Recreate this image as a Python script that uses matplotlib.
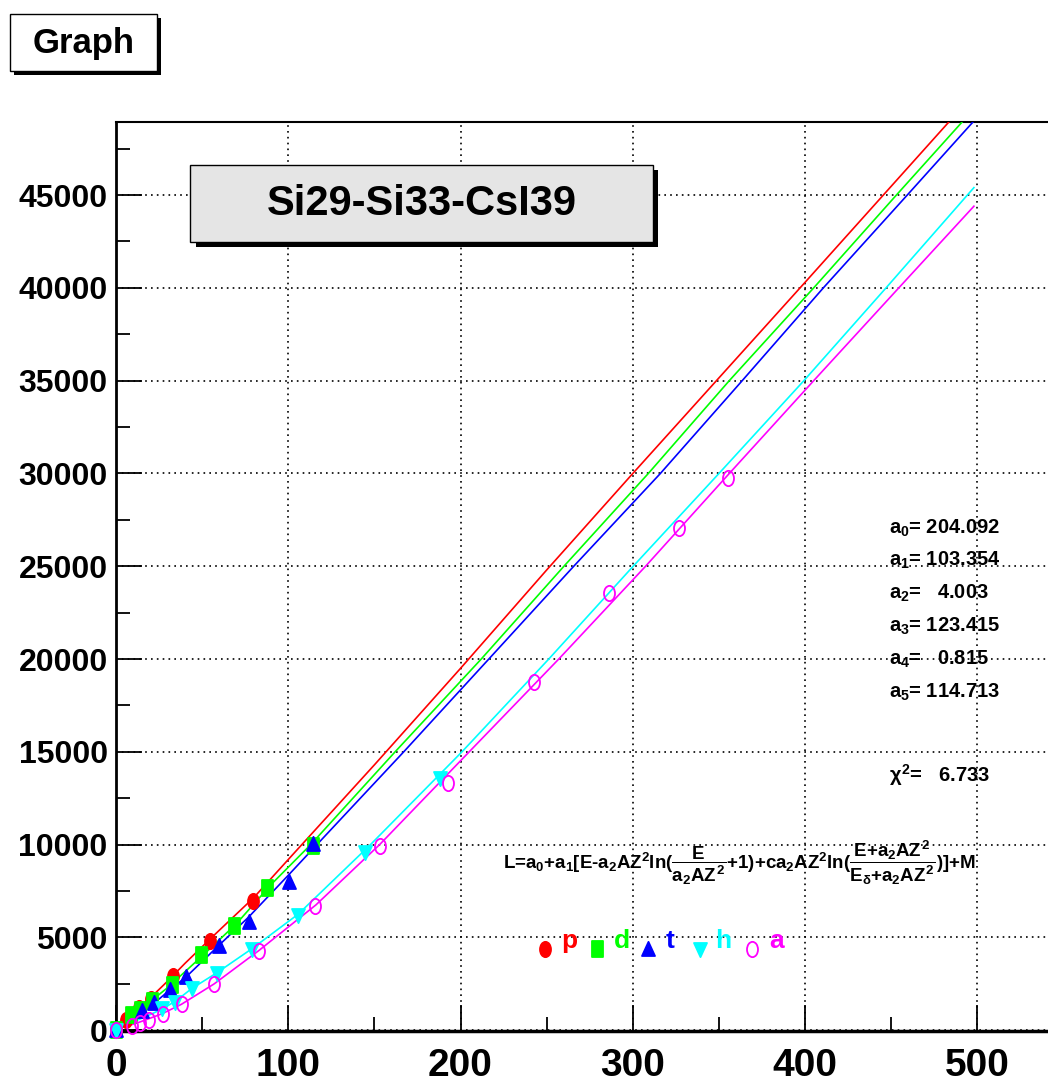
import matplotlib
matplotlib.use('Agg')
import numpy as np
import matplotlib.pyplot as plt
from matplotlib.path import Path
from matplotlib.patches import Rectangle
from matplotlib.lines import Line2D
from matplotlib.ticker import MultipleLocator

plt.rcParams['font.family'] = ['Liberation Sans', 'DejaVu Sans']
plt.rcParams['font.weight'] = 'bold'
plt.rcParams['mathtext.fontset'] = 'custom'
plt.rcParams['mathtext.rm'] = 'Liberation Sans:bold'
plt.rcParams['mathtext.it'] = 'Liberation Sans:bold'
plt.rcParams['mathtext.bf'] = 'Liberation Sans:bold'

# measured points (E, L) for each particle
p_e = [0, 6, 13.5, 20.5, 33.3, 54.4, 79.3]
p_l = [0, 570, 1200, 1680, 2910, 4820, 6960]
d_e = [0, 8.5, 14, 21, 32.4, 49.5, 68.7, 87.7, 114.2]
d_l = [0, 800, 1090, 1600, 2430, 4030, 5620, 7670, 9940]
t_e = [0, 15, 21.8, 31.5, 40.8, 59.5, 77, 100.6, 114.2]
t_l = [0, 1050, 1480, 2170, 2850, 4540, 5850, 8000, 10030]
h_e = [0, 26.7, 34.4, 44, 58.6, 79, 105.7, 144.8, 187.9]
h_l = [0, 1180, 1540, 2290, 3070, 4360, 6200, 9620, 13570]
a_e = [0, 9.3, 14.1, 19, 27.3, 38.3, 56.7, 83.2, 115.7, 153.1, 192.6, 242.5, 286, 326.7, 355.5]
a_l = [0, 250, 400, 550, 880, 1400, 2500, 4270, 6700, 9940, 13300, 18780, 23570, 27040, 29740]

# fitted curves
p_fit_e = [0, 5, 10, 15, 20, 30, 40, 55, 80, 100, 150, 200, 250, 300, 400, 500]
p_fit_l = [200, 550, 950, 1350, 1750, 2650, 3600, 4950, 7150, 9200, 14300, 19500, 24800, 30000, 40300, 50650]
d_fit_e = [0, 5, 10, 15, 20, 30, 50, 70, 90, 113, 162, 212, 260, 309, 356, 405, 453, 500]
d_fit_l = [200, 500, 850, 1150, 1550, 2300, 4000, 5750, 7850, 10000, 15000, 20000, 25000, 30000, 35000,
           40000, 45000, 49850]
t_fit_e = [0, 5, 10, 15, 22, 31, 41, 60, 77, 100, 116.6, 167, 216.4, 265.7, 316, 363.5, 410.6, 459.3, 500]
t_fit_l = [200, 400, 650, 1000, 1450, 2150, 2900, 4600, 6100, 8350, 10000, 15000, 20000, 25000, 30000,
           35000, 40000, 45000, 49200]
h_fit_e = [0, 10, 20, 27, 35, 44, 58.6, 79, 105.7, 147.7, 200.8, 251.2, 300.2, 350, 399.3, 447, 494.2, 498]
h_fit_l = [150, 450, 850, 1150, 1600, 2250, 3100, 4400, 6250, 10000, 15000, 20000, 25000, 30000, 35000,
           40000, 45000, 45400]
a_fit_e = [0, 9, 14, 19, 27, 38, 57, 83, 116, 153, 205, 257, 307.4, 356, 405, 454.4, 498]
a_fit_l = [100, 300, 450, 620, 900, 1400, 2500, 4300, 6750, 10000, 15000, 20000, 25000, 30000, 35000,
           40000, 44400]

labels = ['p', 'd', 't', 'h', 'a']
colors = ['#ff0000', '#00ff00', '#0000ff', '#00ffff', '#ff00ff']

params = ['$a_0$= 204.092', '$a_1$= 103.354', '$a_2$=   4.003', '$a_3$= 123.415',
          '$a_4$=   0.815', '$a_5$= 114.713']
chi2 = r'$\chi^2$=   6.733'
formula = (r'L=$a_0$+$a_1$[E-$a_2$AZ$^2$ln($\dfrac{E}{a_2AZ^2}$+1)+c$a_2$AZ$^2$'
           r'ln($\dfrac{E{+}a_2AZ^2}{E_\delta{+}a_2AZ^2}$)]+M')

W, H = 1048, 1086


def fx(x):
    return x / W


def fy(y):
    return 1 - y / H


# ROOT-like markers, a bit taller than wide
circ = Path.unit_circle()
m_circle = Path(circ.vertices * [0.72, 1.0], circ.codes)
m_square = Path([(-0.72, -1), (0.72, -1), (0.72, 1), (-0.72, 1), (-0.72, -1)], closed=True)
m_tup = Path([(-0.85, -0.85), (0.85, -0.85), (0, 1), (-0.85, -0.85)], closed=True)
m_tdown = Path([(-0.85, 0.85), (0.85, 0.85), (0, -1), (-0.85, 0.85)], closed=True)
markers = [m_circle, m_square, m_tup, m_tdown, m_circle]
filled = [True, True, True, True, False]

fig = plt.figure(figsize=(W / 100, H / 100), dpi=100)
ax = fig.add_axes([fx(116), fy(1031), 1 - fx(116), (1031 - 122.3) / H])

fits = [(p_fit_e, p_fit_l), (d_fit_e, d_fit_l), (t_fit_e, t_fit_l), (h_fit_e, h_fit_l), (a_fit_e, a_fit_l)]
pts = [(p_e, p_l), (d_e, d_l), (t_e, t_l), (h_e, h_l), (a_e, a_l)]

for (fe, fl), c in zip(fits, colors):
    ax.plot(fe, fl, color=c, lw=1.2, zorder=3)
for (pe, pl), c, m, f in zip(pts, colors, markers, filled):
    ax.plot(pe, pl, ls='none', marker=m, ms=11, color=c,
            mfc=c if f else 'none', mec=c, mew=1.3, zorder=4, clip_on=False)

ax.set_xlim(0, 541)
ax.set_ylim(-40, 48920)
ax.xaxis.set_major_locator(MultipleLocator(100))
ax.xaxis.set_minor_locator(MultipleLocator(50))
ax.yaxis.set_major_locator(MultipleLocator(5000))
ax.yaxis.set_minor_locator(MultipleLocator(2500))
ax.grid(True, which='major', color='black', linestyle=(0, (1, 2.5)), linewidth=1.2)
ax.set_axisbelow(True)

ax.tick_params(which='major', direction='in', length=19, width=1.3)
ax.tick_params(which='minor', direction='in', length=10, width=1.3)
ax.tick_params(axis='x', labelsize=28, pad=12)
ax.tick_params(axis='y', labelsize=23, pad=6)
for lab in ax.get_xticklabels() + ax.get_yticklabels():
    lab.set_fontweight('bold')

ax.spines['right'].set_visible(False)
ax.spines['left'].set_linewidth(2)
ax.spines['bottom'].set_linewidth(2.5)
ax.spines['top'].set_linewidth(1.5)

# "Graph" label box with shadow
fig.add_artist(Rectangle((fx(13.5), fy(75)), (160.5 - 13.5) / W, (75 - 18) / H,
                         transform=fig.transFigure, facecolor='black', edgecolor='none'))
fig.add_artist(Rectangle((fx(9.5), fy(70.7)), (157.3 - 9.5) / W, (70.7 - 14) / H,
                         transform=fig.transFigure, facecolor='white', edgecolor='black', lw=1))
fig.text(fx(83.5), fy(43), 'Graph', ha='center', va='center', fontsize=25, fontweight='bold')

# title box with shadow
fig.add_artist(Rectangle((fx(195.5), fy(247.3)), (658.3 - 195.5) / W, (247.3 - 170.5) / H,
                         transform=fig.transFigure, facecolor='black', edgecolor='none'))
fig.add_artist(Rectangle((fx(190), fy(241.7)), (653.3 - 190) / W, (241.7 - 165) / H,
                         transform=fig.transFigure, facecolor='#e5e5e5', edgecolor='black', lw=1))
fig.text(fx(421.5), fy(204), 'Si29-Si33-CsI39', ha='center', va='center', fontsize=30,
         fontweight='bold')

# fit parameters
for i, s in enumerate(params):
    fig.text(fx(889), fy(528 + 32.8 * i), s, ha='left', va='center', fontsize=14.5, fontweight='bold')
fig.text(fx(889), fy(775), chi2, ha='left', va='center', fontsize=14.5, fontweight='bold')

fig.text(fx(739), fy(863), formula, ha='center', va='center', fontsize=13.5, fontweight='bold')

# particle legend
mark_x = [545, 597.3, 648.3, 700, 752.3]
text_x = [569.3, 621.7, 670, 723.3, 776.7]
for lab, c, m, f, mx, tx in zip(labels, colors, markers, filled, mark_x, text_x):
    fig.add_artist(Line2D([fx(mx)], [fy(948.5)], transform=fig.transFigure, ls='none', marker=m,
                          ms=11, color=c, mfc=c if f else 'none', mec=c, mew=1.3))
    fig.text(fx(tx), fy(948), lab, ha='center', va='baseline', fontsize=19, fontweight='bold', color=c)

fig.savefig('out.png', dpi=100, facecolor='white')
